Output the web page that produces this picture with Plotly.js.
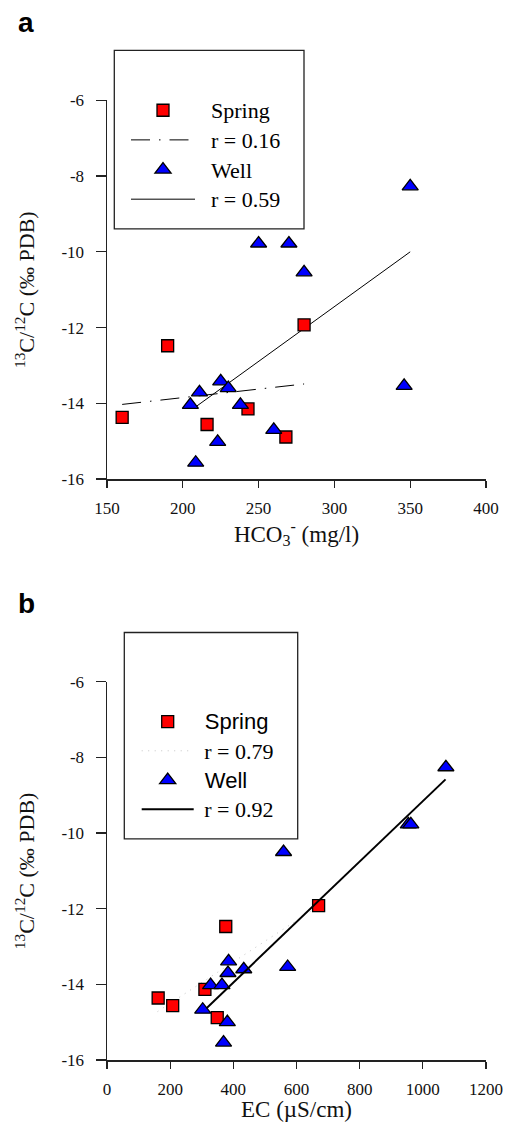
<!DOCTYPE html>
<html><head><meta charset="utf-8">
<script src="https://cdn.plot.ly/plotly-3.0.1.min.js"></script>
<style>html,body{margin:0;padding:0;background:#fff}</style>
</head><body>
<div id="chart" style="width:510px;height:1122px"></div>
<script>
// ---------- Panel a: HCO3- (mg/l) vs 13C/12C ----------
const springHCO3 = [160, 190, 216, 243, 268, 280];
const springC13a = [-14.37, -12.48, -14.56, -14.15, -14.89, -11.93];
const wellHCO3 = [350, 250, 270, 280, 346, 225, 230, 211, 205, 238, 260, 223, 208.5];
const wellC13a = [-8.27, -9.78, -9.78, -10.54, -13.54, -13.42, -13.6, -13.71, -14.04, -14.04, -14.7, -15.02, -15.57];
const springFitHCO3 = [160, 280];
const springFitC13a = [-14.03, -13.49];
const wellFitHCO3 = [209, 350];
const wellFitC13a = [-14.08, -10.0];

// ---------- Panel b: EC (uS/cm) vs 13C/12C ----------
const springEC = [162, 376, 208, 310, 349, 670];
const springC13b = [-14.36, -12.47, -14.56, -14.13, -14.88, -11.92];
const wellEC = [1073, 954, 962, 559, 572, 385, 433, 383, 328, 364, 303, 381, 369];
const wellC13b = [-8.26, -9.77, -9.77, -10.5, -13.54, -13.39, -13.6, -13.7, -14.02, -14.02, -14.67, -15.0, -15.54];
const springFitEC = [160, 670];
const springFitC13b = [-14.72, -11.93];
const wellFitEC = [315, 1072];
const wellFitC13b = [-14.63, -8.58];

// ---------- Labels ----------
const legendNamesA = ['Spring', 'r = 0.16', 'Well', 'r = 0.59'];
const legendNamesB = ['Spring', 'r = 0.79', 'Well', 'r = 0.92'];
const yTicks = [-16, -14, -12, -10, -8, -6];
const xTicksA = [150, 200, 250, 300, 350, 400];
const xTicksB = [0, 200, 400, 600, 800, 1000, 1200];
const yTitle = '<sup>13</sup>C/<sup>12</sup>C (\u2030 PDB)';
const xTitleA = 'HCO<sub>3</sub><sup>-</sup> (mg/l)';
const xTitleB = 'EC (\u00b5S/cm)';

const W = 510, H = 1122;
const serif = 'Liberation Serif';
const sans = 'Liberation Sans';
const px = v => v / W;
const py = v => 1 - v / H;

function nm(text, fam, pad) {
  return '<span style="font-size:22px;font-family:' + fam + '">' + '\u00a0'.repeat(pad) + text + '</span>';
}

const sqMarker = {symbol: 'square', size: 12, color: '#ff0000', line: {color: '#000', width: 1.3}};
const triMarker = {symbol: 'triangle-up', size: 14, color: '#0000ff', line: {color: '#000', width: 1.3}};

const traces = [
  // panel a
  {x: springFitHCO3, y: springFitC13a, mode: 'lines', xaxis: 'x', yaxis: 'y', legend: 'legend',
   name: nm(legendNamesA[1], serif, 2), legendrank: 2,
   line: {color: '#000', width: 1, dash: '19px,9px,1.5px,9px'}},
  {x: wellFitHCO3, y: wellFitC13a, mode: 'lines', xaxis: 'x', yaxis: 'y', legend: 'legend',
   name: nm(legendNamesA[3], serif, 2), legendrank: 4,
   line: {color: '#000', width: 1}},
  {x: springHCO3, y: springC13a, mode: 'markers', xaxis: 'x', yaxis: 'y', legend: 'legend',
   name: nm(legendNamesA[0], serif, 2), legendrank: 1, marker: sqMarker},
  {x: wellHCO3, y: wellC13a, mode: 'markers', xaxis: 'x', yaxis: 'y', legend: 'legend',
   name: nm(legendNamesA[2], serif, 2), legendrank: 3, marker: triMarker},
  // panel b
  {x: springFitEC, y: springFitC13b, mode: 'lines', xaxis: 'x2', yaxis: 'y2', legend: 'legend2',
   name: nm(legendNamesB[1], serif, 1), legendrank: 2,
   line: {color: '#c4c4c4', width: 1, dash: '1px,5.5px'}},
  {x: springEC, y: springC13b, mode: 'markers', xaxis: 'x2', yaxis: 'y2', legend: 'legend2',
   name: nm(legendNamesB[0], sans, 1), legendrank: 1, marker: sqMarker},
  {x: wellEC, y: wellC13b, mode: 'markers', xaxis: 'x2', yaxis: 'y2', legend: 'legend2',
   name: nm(legendNamesB[2], sans, 1), legendrank: 3, marker: triMarker},
  {x: wellFitEC, y: wellFitC13b, mode: 'lines', xaxis: 'x2', yaxis: 'y2', legend: 'legend2',
   name: nm(legendNamesB[3], serif, 1), legendrank: 4,
   line: {color: '#000', width: 2}}
];

function xAxis(ticks, domain, anchor, title) {
  return {
    domain: domain, anchor: anchor, range: [ticks[0], ticks[ticks.length - 1]],
    tickmode: 'array', tickvals: ticks, ticktext: ticks.map(String),
    ticks: 'outside', ticklen: 7, tickwidth: 1.3, tickcolor: '#222',
    showline: true, linecolor: '#222', linewidth: 1.5, showgrid: false, zeroline: false,
    mirror: false, ticklabelstandoff: 6,
    tickfont: {family: serif, size: 17, color: '#111'},
    title: {text: title, font: {family: serif, size: 23, color: '#111'}, standoff: 5}
  };
}
function yAxis(ticks, domain, anchor) {
  return {
    domain: domain, anchor: anchor, range: [ticks[0], ticks[ticks.length - 1]],
    tickmode: 'array', tickvals: ticks, ticktext: ticks.map(String),
    ticks: 'outside', ticklen: 10, tickwidth: 1.3, tickcolor: '#222',
    showline: true, linecolor: '#222', linewidth: 1.5, showgrid: false, zeroline: false,
    mirror: false, ticklabelstandoff: 8,
    tickfont: {family: serif, size: 17, color: '#111'},
    title: {text: yTitle + '\u00a0\u00a0\u00a0', font: {family: serif, size: 22, color: '#111'}, standoff: 20}
  };
}

const xDom = [px(107), px(486)];
const layout = {
  width: W, height: H, autosize: false,
  margin: {l: 0, r: 0, t: 0, b: 0, pad: 0},
  paper_bgcolor: '#fff', plot_bgcolor: 'rgba(0,0,0,0)',
  font: {family: serif},
  showlegend: true,
  xaxis: xAxis(xTicksA, xDom, 'y', xTitleA),
  yaxis: yAxis(yTicks, [py(479), py(100.4)], 'x'),
  xaxis2: xAxis(xTicksB, xDom, 'y2', xTitleB),
  yaxis2: yAxis(yTicks, [py(1060), py(681.8)], 'x2'),
  legend: {x: px(126), xanchor: 'left', y: py(90.4), yanchor: 'top',
    bgcolor: 'rgba(0,0,0,0)', borderwidth: 0, itemwidth: 64, tracegroupgap: 0,
    font: {family: serif, size: 20.5, color: '#000'}},
  legend2: {x: px(136.7), xanchor: 'left', y: py(701.9), yanchor: 'top',
    bgcolor: 'rgba(0,0,0,0)', borderwidth: 0, itemwidth: 52, tracegroupgap: 0,
    font: {family: serif, size: 20.2, color: '#000'}},
  shapes: [
    {type: 'rect', xref: 'paper', yref: 'paper', x0: px(114.3), x1: px(304), y0: py(228.9), y1: py(50.4),
     line: {color: '#222', width: 1.3}, fillcolor: 'rgba(0,0,0,0)'},
    {type: 'rect', xref: 'paper', yref: 'paper', x0: px(124.3), x1: px(297.7), y0: py(838.9), y1: py(632.5),
     line: {color: '#222', width: 1.3}, fillcolor: 'rgba(0,0,0,0)'}
  ],
  annotations: [
    {text: '<b>a</b>', xref: 'paper', yref: 'paper', x: px(16), y: py(22), xanchor: 'left', yanchor: 'middle',
     showarrow: false, font: {family: sans, size: 28, color: '#000'}},
    {text: '<b>b</b>', xref: 'paper', yref: 'paper', x: px(16), y: py(603), xanchor: 'left', yanchor: 'middle',
     showarrow: false, font: {family: sans, size: 28, color: '#000'}}
  ]
};

Plotly.newPlot('chart', traces, layout, {displayModeBar: false, staticPlot: true});
</script>
</body></html>
